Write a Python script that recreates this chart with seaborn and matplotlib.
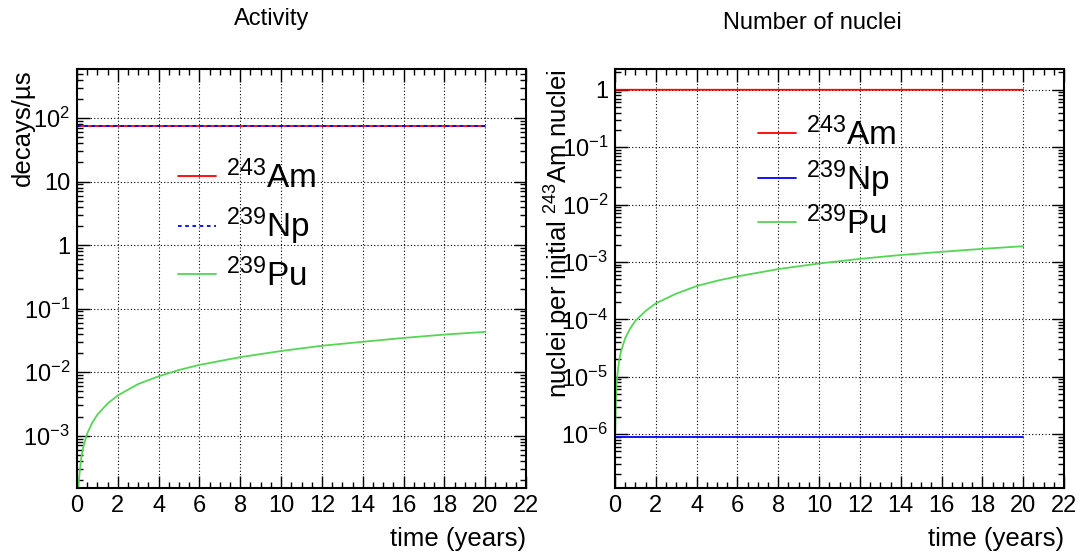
import numpy as np
import pandas as pd
import matplotlib
matplotlib.use("Agg")
import matplotlib.pyplot as plt
import matplotlib.ticker as mticker
import seaborn as sns

# activity (decays/us)
t_flat = [0, 20]
am_activity = [75, 75]
np_activity = [75, 75]
t_pu = [0.04, 0.07, 0.1, 0.2, 0.3, 0.5, 0.75, 1, 1.5, 2, 3, 4, 5, 6, 8, 10, 12, 14, 16, 18, 20]
pu_activity = [0.00009, 0.00015, 0.00021, 0.00043, 0.00065, 0.00108, 0.0016, 0.00215, 0.0032,
               0.0043, 0.0065, 0.0086, 0.0108, 0.013, 0.0172, 0.0215, 0.026, 0.030, 0.0345,
               0.039, 0.043]

# nuclei per initial Am-243 nucleus
am_number = [1.0, 0.998]
np_number = [8.8e-7, 8.8e-7]
t_pu_n = [0.01, 0.05, 0.1, 0.2, 0.3, 0.5, 0.75, 1, 1.5, 2, 3, 4, 5, 6, 8, 10, 12, 14, 16, 18, 20]
pu_number = [9e-7, 4.7e-6, 9.4e-6, 1.9e-5, 2.8e-5, 4.7e-5, 7e-5, 9.4e-5, 1.4e-4, 1.9e-4, 2.8e-4,
             3.8e-4, 4.7e-4, 5.6e-4, 7.5e-4, 9.4e-4, 1.13e-3, 1.32e-3, 1.5e-3, 1.69e-3, 1.88e-3]

labels = [r"$^{243}$Am", r"$^{239}$Np", r"$^{239}$Pu"]
RED, BLUE, GREEN = "#ff0000", "#0000ff", "#55d655"

sns.set_theme(style="ticks")
plt.rcParams["font.family"] = ["Liberation Sans", "DejaVu Sans"]
plt.rcParams["mathtext.fontset"] = "custom"
plt.rcParams["mathtext.rm"] = "Liberation Sans"
plt.rcParams["mathtext.it"] = "Liberation Sans"
plt.rcParams["mathtext.default"] = "regular"
plt.rcParams["text.color"] = "black"
plt.rcParams["axes.labelcolor"] = "black"
plt.rcParams["xtick.color"] = "black"
plt.rcParams["ytick.color"] = "black"

fig = plt.figure(figsize=(10.81, 5.57), dpi=100)
ax1 = fig.add_axes([77 / 1081, 69 / 557, 449 / 1081, 419 / 557])
ax2 = fig.add_axes([615 / 1081, 69 / 557, 449 / 1081, 419 / 557])


def log_fmt(v, pos):
    e = int(round(np.log10(v)))
    if e == 0:
        return "1"
    if e == 1:
        return "10"
    return r"$10^{%d}$" % e


def style_axes(ax, ylo, yhi):
    ax.set_yscale("log")
    ax.set_xlim(0, 22)
    ax.set_ylim(ylo, yhi)
    ax.xaxis.set_major_locator(mticker.MultipleLocator(2))
    ax.xaxis.set_minor_locator(mticker.MultipleLocator(0.5))
    ax.yaxis.set_major_locator(mticker.LogLocator(base=10, numticks=20))
    ax.yaxis.set_minor_locator(mticker.LogLocator(base=10, subs=np.arange(2, 10), numticks=20))
    ax.yaxis.set_major_formatter(mticker.FuncFormatter(log_fmt))
    ax.yaxis.set_minor_formatter(mticker.NullFormatter())
    ax.tick_params(which="both", direction="in", top=True, right=True, colors="black",
                   labelsize=17, pad=5)
    ax.tick_params(which="major", length=9, width=1.0)
    ax.tick_params(which="minor", length=4.5, width=1.0)
    ax.grid(True, which="major", linestyle=(0, (1, 2)), color="black", linewidth=0.8)
    ax.grid(False, which="minor")
    for s in ax.spines.values():
        s.set_color("black")
        s.set_linewidth(1.5)
    ax.set_xlabel("time (years)", fontsize=18.5, loc="right")
    ax.xaxis.set_label_coords(1.0, -0.093)


# left: activity
df_a = pd.DataFrame({"t": t_flat, "am": am_activity, "np": np_activity})
sns.lineplot(data=df_a, x="t", y="am", ax=ax1, color=RED, lw=1.3, label=labels[0])
sns.lineplot(data=df_a, x="t", y="np", ax=ax1, color=BLUE, lw=1.3, linestyle=(0, (2, 2)),
             label=labels[1])
sns.lineplot(x=t_pu, y=pu_activity, ax=ax1, color=GREEN, lw=1.3, label=labels[2])
style_axes(ax1, 1.5e-4, 590)
ax1.set_ylabel("decays/µs", fontsize=18.5, loc="top")
ax1.yaxis.set_label_coords(-0.094, 1.0)
ax1.legend(loc="upper left", bbox_to_anchor=(0.225, 0.782), frameon=False, fontsize=24,
           handlelength=1.15, handletextpad=0.3, labelspacing=0.33, borderpad=0,
           borderaxespad=0)

# right: number of nuclei
df_n = pd.DataFrame({"t": t_flat, "am": am_number, "np": np_number})
sns.lineplot(data=df_n, x="t", y="am", ax=ax2, color=RED, lw=1.3, label=labels[0])
sns.lineplot(data=df_n, x="t", y="np", ax=ax2, color=BLUE, lw=1.3, label=labels[1])
sns.lineplot(x=t_pu_n, y=pu_number, ax=ax2, color=GREEN, lw=1.3, label=labels[2])
style_axes(ax2, 1.15e-7, 2.3)
ax2.set_ylabel(r"nuclei per initial $^{243}$Am nuclei", fontsize=18.5, loc="top")
ax2.yaxis.set_label_coords(-0.09, 1.0)
ax2.legend(loc="upper left", bbox_to_anchor=(0.318, 0.885), frameon=False, fontsize=24,
           handlelength=1.15, handletextpad=0.3, labelspacing=0.2, borderpad=0,
           borderaxespad=0)

fig.text(272 / 1081, 1 - 19 / 557, "Activity", fontsize=17, ha="center", va="center")
fig.text(812 / 1081, 1 - 23 / 557, "Number of nuclei", fontsize=17, ha="center", va="center")

fig.savefig("out.png", dpi=100, facecolor="white")
